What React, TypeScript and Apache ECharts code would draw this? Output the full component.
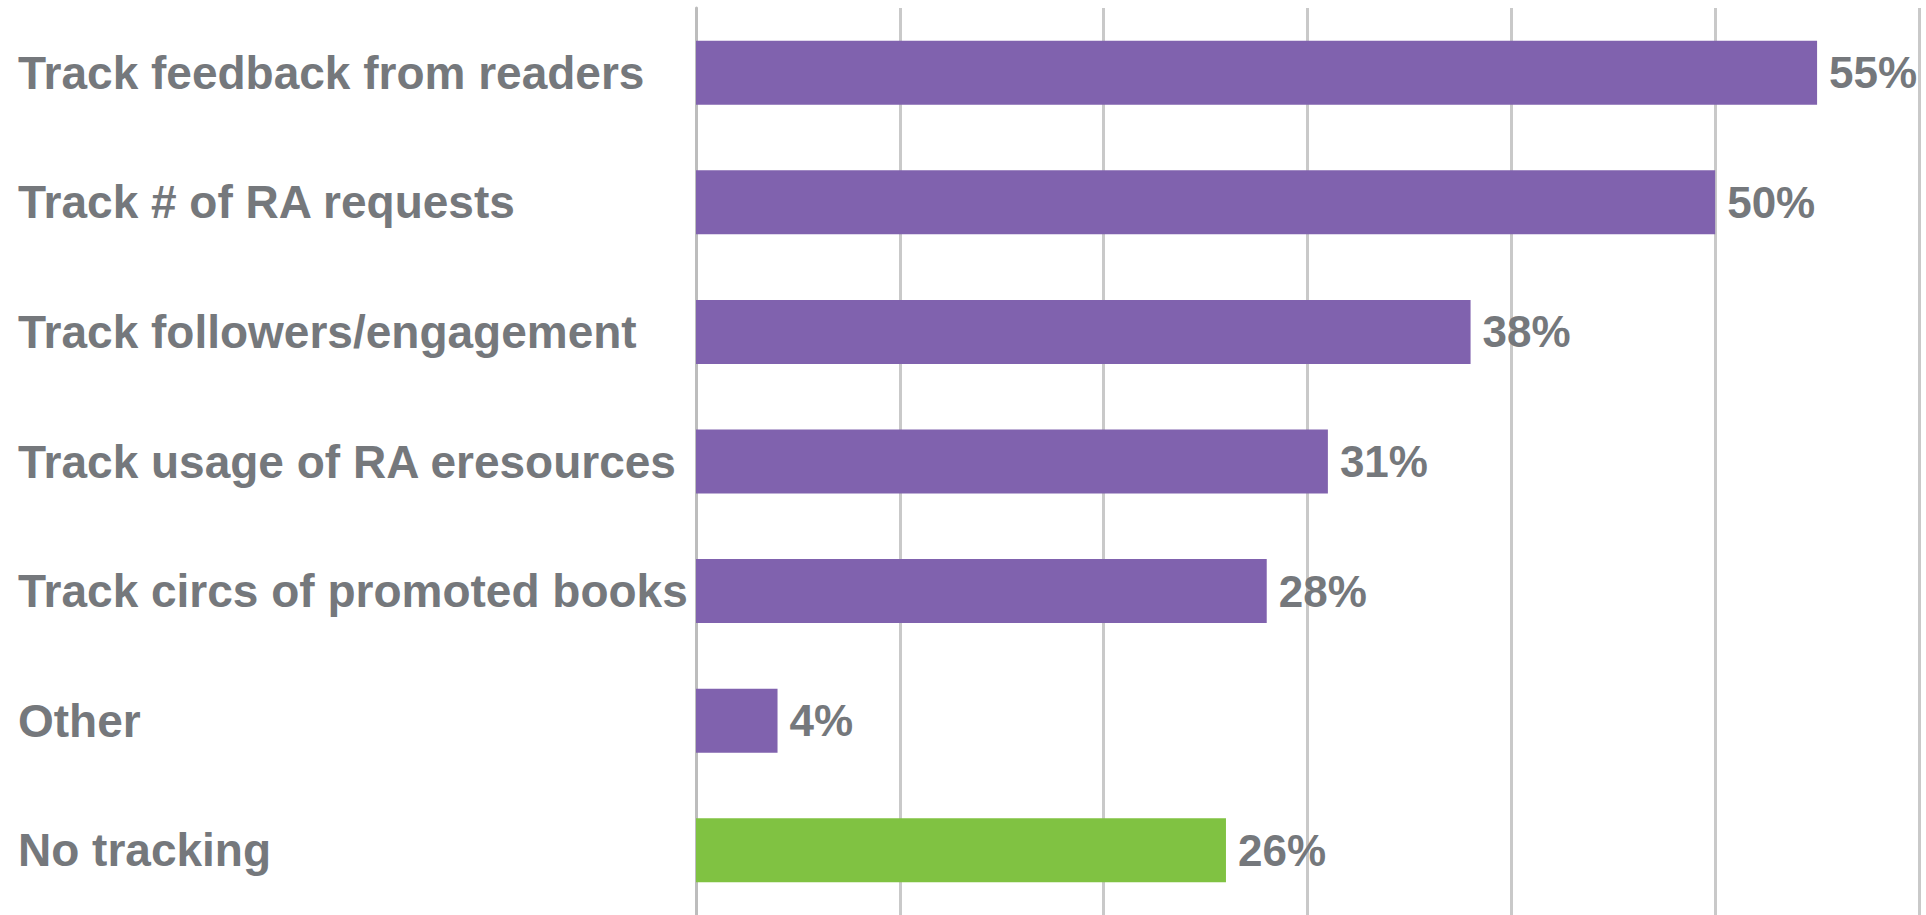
import React, { useEffect, useRef } from "react";
import * as echarts from "echarts";

const categories = [
  "Track feedback from readers",
  "Track # of RA requests",
  "Track followers/engagement",
  "Track usage of RA eresources",
  "Track circs of promoted books",
  "Other",
  "No tracking",
];
const values = [55, 50, 38, 31, 28, 4, 26];
const barColors = ["#8062ae", "#8062ae", "#8062ae", "#8062ae", "#8062ae", "#8062ae", "#80c242"];
const axisMin = 0;
const axisMax = 60;
const axisInterval = 10;

export default function App() {
  const ref = useRef<HTMLDivElement>(null);
  useEffect(() => {
    document.body.style.margin = "0";
    const chart = echarts.init(ref.current!, null, { renderer: "svg" });
    const font = "'Liberation Sans Narrow', 'Liberation Sans', sans-serif";
    chart.setOption({
      animation: false,
      backgroundColor: "#ffffff",
      grid: { left: 696, right: 7, top: 8, height: 910, containLabel: false },
      xAxis: {
        type: "value",
        min: axisMin,
        max: axisMax,
        interval: axisInterval,
        axisLabel: { show: false },
        axisLine: { show: false },
        axisTick: { show: false },
        splitLine: { show: true, lineStyle: { color: "#c9c9c9", width: 3 } },
      },
      yAxis: {
        type: "category",
        data: categories,
        inverse: true,
        axisLine: { show: true, lineStyle: { color: "#bdbdbd", width: 3 } },
        axisTick: { show: false },
        axisLabel: {
          align: "left",
          margin: 678,
          color: "#75787c",
          fontFamily: font,
          fontWeight: "bold",
          fontSize: 46,
          padding: [8, 0, 0, 0],
        },
      },
      series: [
        {
          type: "bar",
          data: values.map((v, i) => ({ value: v, itemStyle: { color: barColors[i] } })),
          barWidth: 64,
          label: {
            show: true,
            position: "right",
            distance: 12,
            formatter: "{c}%",
            color: "#75787c",
            fontFamily: font,
            fontWeight: "bold",
            fontSize: 44,
            padding: [6, 0, 0, 0],
          },
        },
      ],
    });
    return () => chart.dispose();
  }, []);
  return (
    <div
      ref={ref}
      style={{ position: "absolute", left: 0, top: 0, width: 1926, height: 915 }}
    />
  );
}
